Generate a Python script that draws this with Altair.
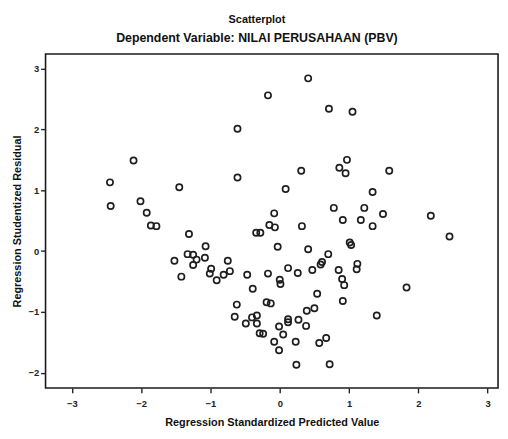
import altair as alt
import pandas as pd

# Regression Standardized Predicted Value
pred = [-0.17, -0.61, -2.11, -2.45, -0.61, -1.45, -2.44, -2.01, -1.92, -1.86,
        -1.78, -1.31, -0.34, -0.28, -0.08, -0.15, -0.07, 0.41, 0.71, 1.05,
        0.97, 0.86, 0.95, 0.31, 1.58, 0.085, 1.34, 0.78, 1.22, 1.49,
        2.18, 0.91, 1.17, 0.32, 1.34, 2.45, 1.01, 1.03, -0.03, 0.41,
        0.70, 0.61, 0.59, 0.12, -0.17, 0.26, 0.47, 0.85, 1.12, 1.11,
        0.00, 0.01, 0.90, 0.93, 1.83, 0.54, -0.19, -0.13, 0.91, 0.39,
        0.50, 1.40, -0.33, -0.33, 0.12, 0.12, 0.27, -0.01, 0.38, -0.29,
        -0.24, 0.05, -0.08, 0.23, 0.57, 0.67, -0.01, 0.24, 0.72, -1.52,
        -1.33, -1.25, -1.20, -1.25, -1.07, -1.08, -1.42, -0.99, -1.01, -0.91,
        -0.81, -0.72, -0.75, -0.47, -0.39, -0.62, -0.65, -0.49, -0.40]

# Regression Studentized Residual
resid = [2.56, 2.01, 1.49, 1.13, 1.21, 1.05, 0.74, 0.82, 0.63, 0.42,
         0.41, 0.28, 0.30, 0.30, 0.62, 0.43, 0.39, 2.84, 2.34, 2.29,
         1.50, 1.37, 1.28, 1.32, 1.32, 1.02, 0.97, 0.71, 0.71, 0.61,
         0.58, 0.51, 0.51, 0.41, 0.41, 0.24, 0.14, 0.10, 0.07, 0.03,
         -0.05, -0.18, -0.22, -0.28, -0.37, -0.36, -0.31, -0.31, -0.21, -0.30,
         -0.47, -0.54, -0.46, -0.56, -0.60, -0.70, -0.84, -0.86, -0.82, -0.98,
         -0.94, -1.06, -1.06, -1.19, -1.12, -1.17, -1.13, -1.24, -1.23, -1.35,
         -1.36, -1.37, -1.49, -1.49, -1.51, -1.43, -1.63, -1.87, -1.86, -0.16,
         -0.05, -0.06, -0.14, -0.23, 0.08, -0.11, -0.42, -0.29, -0.37, -0.48,
         -0.39, -0.33, -0.16, -0.39, -0.62, -0.88, -1.08, -1.19, -1.09]

x_ticks = [-3, -2, -1, 0, 1, 2, 3]
y_ticks = [-2, -1, 0, 1, 2, 3]

df = pd.DataFrame({"pred": pred, "resid": resid})

FONT = "Liberation Sans"

chart = (
    alt.Chart(df)
    .mark_point(shape="circle", filled=False, size=40, strokeWidth=1.7,
                color="#1e1e1e", opacity=1)
    .encode(
        x=alt.X("pred:Q",
                scale=alt.Scale(domain=[-3.38, 3.15], nice=False, zero=False),
                axis=alt.Axis(values=x_ticks, title="Regression Standardized Predicted Value",
                              grid=False, domain=False, tickSize=5, tickColor="#222",
                              tickWidth=1.4, labelFontSize=9.5, labelFontWeight="bold",
                              labelColor="#222", labelPadding=6, titleFontSize=11,
                              titleFontWeight="bold", titleColor="#111", titlePadding=9,
                              labelFont=FONT, titleFont=FONT)),
        y=alt.Y("resid:Q",
                scale=alt.Scale(domain=[-2.25, 3.24], nice=False, zero=False),
                axis=alt.Axis(values=y_ticks, title="Regression Studentized Residual",
                              grid=False, domain=False, tickSize=5, tickColor="#222",
                              tickWidth=1.4, labelFontSize=9.5, labelFontWeight="bold",
                              labelColor="#222", labelPadding=2, titleFontSize=11,
                              titleFontWeight="bold", titleColor="#111", titlePadding=6,
                              labelFont=FONT, titleFont=FONT)),
    )
    .properties(
        width=458,
        height=338,
        autosize=alt.AutoSizeParams(type="none"),
        padding={"left": 38, "top": 44, "right": 2, "bottom": 40},
        title=alt.TitleParams(
            text="Scatterplot",
            subtitle="Dependent Variable: NILAI PERUSAHAAN (PBV)",
            anchor="middle", dx=-15, font=FONT, fontSize=11, fontWeight="bold",
            color="#111", subtitleFont=FONT, subtitleFontSize=12.5,
            subtitleFontWeight="bold", subtitleColor="#111", subtitlePadding=7,
            offset=10,
        ),
    )
    .configure(background="white")
    .configure_view(stroke="#1a1a1a", strokeWidth=1.6)
)

chart.save("out.html", embed_options={"renderer": "svg", "actions": False})
